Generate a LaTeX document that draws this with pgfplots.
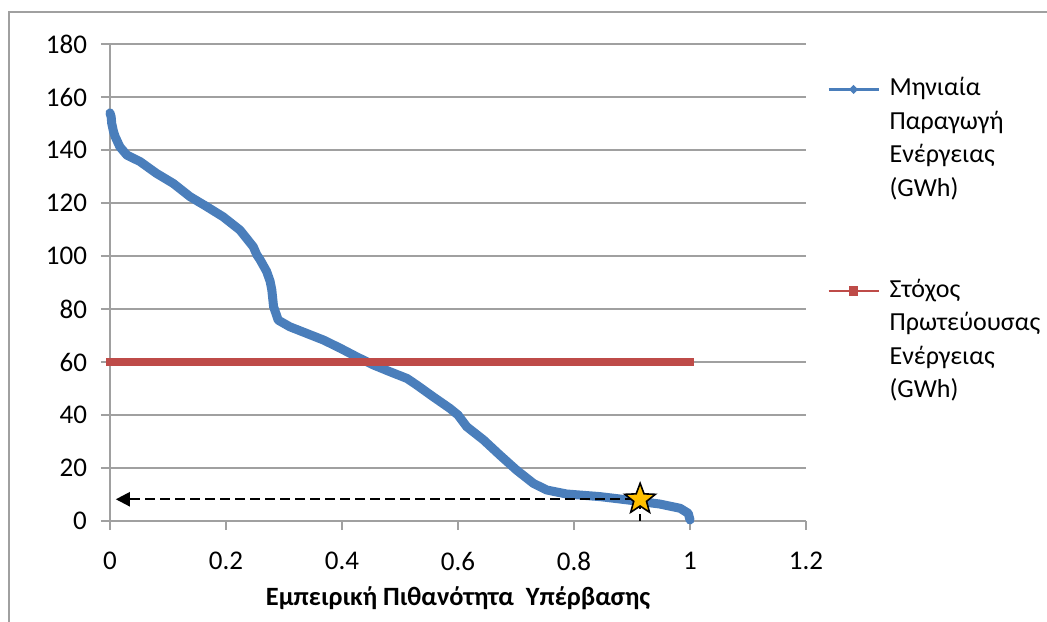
\documentclass[border=0pt]{standalone}
\usepackage{fontspec}
\setmainfont{Carlito}
\usepackage{pgfplots}
\pgfplotsset{compat=1.18}
\usetikzlibrary{arrows.meta}
\definecolor{exblue}{HTML}{4A7EBB}
\definecolor{exred}{HTML}{BE4B48}
\definecolor{gridgray}{HTML}{A0A0A0}
\definecolor{stargold}{HTML}{FFC000}
\pgfdeclareplotmark{fivestar}{%
  \pgfpathmoveto{\pgfpointpolar{90}{\pgfplotmarksize}}%
  \pgfpathlineto{\pgfpointpolar{126}{0.42\pgfplotmarksize}}%
  \pgfpathlineto{\pgfpointpolar{162}{\pgfplotmarksize}}%
  \pgfpathlineto{\pgfpointpolar{198}{0.42\pgfplotmarksize}}%
  \pgfpathlineto{\pgfpointpolar{234}{\pgfplotmarksize}}%
  \pgfpathlineto{\pgfpointpolar{270}{0.42\pgfplotmarksize}}%
  \pgfpathlineto{\pgfpointpolar{306}{\pgfplotmarksize}}%
  \pgfpathlineto{\pgfpointpolar{342}{0.42\pgfplotmarksize}}%
  \pgfpathlineto{\pgfpointpolar{18}{\pgfplotmarksize}}%
  \pgfpathlineto{\pgfpointpolar{54}{0.42\pgfplotmarksize}}%
  \pgfpathclose
  \pgfusepathqfillstroke
}
\pgfplotstableread{
x y
0.000 154.0
0.002 152.5
0.003 150.0
0.006 147.0
0.009 145.0
0.017 141.2
0.029 138.1
0.052 135.6
0.080 131.2
0.109 127.4
0.138 122.4
0.167 118.6
0.195 114.8
0.224 109.8
0.247 103.5
0.253 100.5
0.259 98.5
0.270 94.2
0.276 90.5
0.279 87.2
0.282 80.9
0.290 75.8
0.310 73.3
0.339 70.8
0.368 68.3
0.397 65.2
0.425 62.0
0.454 58.9
0.483 56.3
0.512 53.8
0.529 51.3
0.557 46.9
0.586 42.5
0.600 40.0
0.615 35.6
0.644 30.6
0.672 24.9
0.701 19.2
0.730 14.2
0.753 11.7
0.787 10.2
0.845 9.2
0.902 7.7
0.948 6.4
0.983 4.8
0.997 2.9
1.000 0.4
}\flowdata
\begin{document}
\begin{tikzpicture}
\begin{axis}[
  at={(0,0)}, anchor=south west,
  scale only axis, width=348pt, height=238.5pt,
  xmin=0, xmax=1.2, ymin=0, ymax=180,
  axis x line*=bottom, axis y line*=left,
  axis line style={gridgray, line width=1pt, -},
  ymajorgrids, grid style={gridgray, line width=1pt},
  xtick={0,0.2,0.4,0.6,0.8,1,1.2},
  xticklabels={0,0.2,0.4,0.6,0.8,1,1.2},
  ytick={0,20,40,60,80,100,120,140,160,180},
  tick align=outside, major tick length=4.5pt,
  tick style={gridgray, line width=1pt},
  ticklabel style={font=\fontsize{13.5}{15}\selectfont},
  xticklabel style={yshift=-7.5pt},
  yticklabel style={xshift=-3.5pt},
  /pgf/number format/assume math mode=true,
  xlabel={\bfseries Εμπειρική Πιθανότητα\ \ Υπέρβασης},
  every axis x label/.style={at={(axis description cs:0.5,0)}, anchor=center, yshift=-38.5pt, font=\fontsize{13.2}{15}\selectfont},
  clip=false,
  legend style={at={(1,1)}, anchor=north west, xshift=10.5pt, yshift=-16pt,
    draw=none, fill=none, inner sep=0pt, row sep=3.8pt, column sep=5pt,
    nodes={inner sep=0pt, text height=9.5pt, text depth=3.5pt},
    cells={anchor=west}, font=\fontsize{13}{16.5}\selectfont},
]
\addplot[exblue, line width=4.5pt, line cap=round, line join=round,
  legend image code/.code={
    \draw[exblue, line width=1.1pt, line cap=butt, fill=none] (0pt,0pt) -- (25pt,0pt);
    \fill[exblue, draw=none] (12.5pt,2.3pt) -- (14.8pt,0pt) -- (12.5pt,-2.3pt) -- (10.2pt,0pt) -- cycle;
  }] table {\flowdata};
\addlegendentry{Μηνιαία}
\addlegendimage{empty legend}
\addlegendentry{Παραγωγή}
\addlegendimage{empty legend}
\addlegendentry{Ενέργειας}
\addlegendimage{empty legend}
\addlegendentry{(GWh)}
\addlegendimage{empty legend}
\addlegendentry{\mbox{}}
\addlegendimage{empty legend}
\addlegendentry{\mbox{}}
\addplot[exred, line width=4.3pt, line cap=rect,
  legend image code/.code={
    \draw[exred, line width=1.1pt, line cap=butt, fill=none] (0pt,0pt) -- (25pt,0pt);
    \fill[exred, draw=none] (10.2pt,2.3pt) rectangle (14.8pt,-2.3pt);
  }] coordinates {(0,60) (1,60)};
\addlegendentry{Στόχος}
\addlegendimage{empty legend}
\addlegendentry{Πρωτεύουσας}
\addlegendimage{empty legend}
\addlegendentry{Ενέργειας}
\addlegendimage{empty legend}
\addlegendentry{(GWh)}
\addplot[forget plot, black, line width=1.1pt, dash pattern=on 5pt off 2.5pt] coordinates {(0.914,8.2) (0.914,0)};
\addplot[forget plot, black, line width=1.1pt, dash pattern=on 5pt off 2.5pt, -{Triangle[length=7pt,width=7pt]}] coordinates {(0.905,8.2) (0.010,8.2)};
\addplot[forget plot, only marks, mark=fivestar, mark size=8pt, mark options={fill=stargold, draw=black, line width=0.8pt, solid}] coordinates {(0.914,8.2)};
\end{axis}
\draw[gridgray, line width=1.2pt] (-50.5pt,-52pt) -- (-50.5pt,254.5pt) -- (470pt,254.5pt);
\pgfresetboundingbox
\path[use as bounding box] (-55pt,-50pt) rectangle (468.5pt,260.5pt);
\end{tikzpicture}
\end{document}
